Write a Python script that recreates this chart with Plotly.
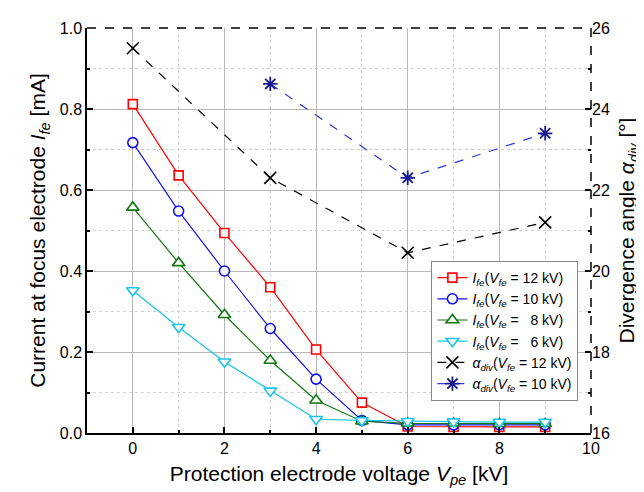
import plotly.graph_objects as go

x_vals = [0, 1, 2, 3, 4, 5, 6, 7, 8, 9]
ife_12 = [0.812, 0.636, 0.494, 0.360, 0.206, 0.075, 0.016, 0.015, 0.015, 0.015]
ife_10 = [0.717, 0.548, 0.400, 0.258, 0.133, 0.031, 0.020, 0.020, 0.020, 0.020]
ife_8 = [0.557, 0.420, 0.292, 0.179, 0.081, 0.029, 0.024, 0.024, 0.023, 0.023]
ife_6 = [0.352, 0.261, 0.176, 0.104, 0.034, 0.031, 0.029, 0.028, 0.027, 0.027]

alpha_x_12 = [0, 3, 6, 9]
alpha_12 = [25.5, 22.3, 20.45, 21.2]
alpha_x_10 = [3, 6, 9]
alpha_10 = [24.62, 22.3, 23.4]

FONT = "Liberation Sans, Arial, sans-serif"

def lab(sym, sub, v):
    return f"<i>{sym}</i><sub><i>{sub}</i></sub>(<i>V</i><sub><i>fe</i></sub> = {v} kV)"

fig = go.Figure()

series = [
    (ife_12, "#ff0000", "square", 9, lab("I", "fe", "12")),
    (ife_10, "#1010ee", "circle", 10, lab("I", "fe", "10")),
    (ife_8, "#117711", "triangle-up", 11, lab("I", "fe", "&nbsp;&nbsp;8")),
    (ife_6, "#18c4ee", "triangle-down", 11, lab("I", "fe", "&nbsp;&nbsp;6")),
]
for ys, col, sym, sz, name in series:
    fig.add_trace(go.Scatter(
        x=x_vals, y=ys, mode="lines+markers", name=name,
        line=dict(color=col, width=1.2),
        marker=dict(symbol=sym, size=sz, color="white", line=dict(color=col, width=1.6)),
        xaxis="x", yaxis="y",
    ))

fig.add_trace(go.Scatter(
    x=alpha_x_12, y=alpha_12, mode="lines+markers", name=lab("α", "div", "12"),
    line=dict(color="black", width=1.2, dash="dash"),
    marker=dict(symbol="x-thin", size=12, line=dict(color="black", width=1.6)),
    xaxis="x", yaxis="y2",
))
fig.add_trace(go.Scatter(
    x=alpha_x_10, y=alpha_10, mode="lines+markers", name=lab("α", "div", "10"),
    line=dict(color="#2a3ad8", width=1.2, dash="dash"),
    marker=dict(symbol="asterisk", size=12, line=dict(color="#1a1a90", width=1.8)),
    xaxis="x", yaxis="y2",
))

fig.update_layout(
    width=644, height=492,
    margin=dict(l=79, r=61, t=18, b=67),
    paper_bgcolor="white", plot_bgcolor="white",
    font=dict(family=FONT, size=16, color="black"),
    showlegend=True,
    legend=dict(
        x=0.975, y=0.079, xanchor="right", yanchor="bottom",
        bgcolor="white", bordercolor="#888888", borderwidth=1,
        font=dict(family=FONT, size=14, color="black"),
        tracegroupgap=0, itemwidth=30,
    ),
    xaxis=dict(
        range=[-1, 10], tickvals=[0, 2, 4, 6, 8, 10],
        showline=True, linecolor="black", linewidth=1.5,
        ticks="inside", ticklen=6, tickcolor="black", tickwidth=1.5,
        showgrid=True, gridcolor="#b8b8b8", gridwidth=1,
        minor=dict(dtick=1, tick0=0, ticks="inside", ticklen=3, tickcolor="black",
                   showgrid=True, gridcolor="#d0d0d0", griddash="dot"),
        zeroline=False,
        title=dict(text="Protection electrode voltage <i>V</i><sub><i>pe</i></sub> [kV]",
                   font=dict(size=21), standoff=10),
    ),
    xaxis2=dict(
        range=[-1, 10], overlaying="x", side="top", anchor="y",
        tickvals=[0, 2, 4, 6, 8, 10], showticklabels=False,
        ticks="inside", ticklen=6, tickcolor="black", tickwidth=1.5,
        showline=False, showgrid=False, zeroline=False,
        minor=dict(dtick=1, tick0=0, ticks="inside", ticklen=3, tickcolor="black", showgrid=False),
    ),
    yaxis=dict(
        range=[0, 1.0], tickvals=[0, 0.2, 0.4, 0.6, 0.8, 1.0], tickformat=".1f",
        showline=True, linecolor="black", linewidth=1.5,
        ticks="inside", ticklen=6, tickcolor="black", tickwidth=1.5,
        showgrid=True, gridcolor="#b8b8b8", gridwidth=1,
        minor=dict(dtick=0.1, tick0=0, ticks="inside", ticklen=3, tickcolor="black",
                   showgrid=True, gridcolor="#d0d0d0", griddash="dot"),
        zeroline=False,
        title=dict(text="Current at focus electrode <i>I</i><sub><i>fe</i></sub> [mA]",
                   font=dict(size=21), standoff=8),
    ),
    yaxis2=dict(
        range=[16, 26], tickvals=[16, 18, 20, 22, 24, 26],
        overlaying="y", side="right", anchor="x",
        showline=False, showgrid=False, zeroline=False,
        ticks="inside", ticklen=6, tickcolor="black", tickwidth=1.5,
        minor=dict(dtick=1, tick0=16, ticks="inside", ticklen=3, tickcolor="black", showgrid=False),
        title=dict(text="Divergence angle <i>α</i><sub><i>div</i></sub> [°]",
                   font=dict(size=21), standoff=10),
    ),
    shapes=[
        dict(type="line", xref="paper", yref="paper", x0=0, x1=1, y0=1, y1=1,
             line=dict(color="black", width=1.5, dash="dash")),
        dict(type="line", xref="paper", yref="paper", x0=1, x1=1, y0=0, y1=1,
             line=dict(color="black", width=1.5, dash="dash")),
    ],
)

fig.write_html("out.html")
